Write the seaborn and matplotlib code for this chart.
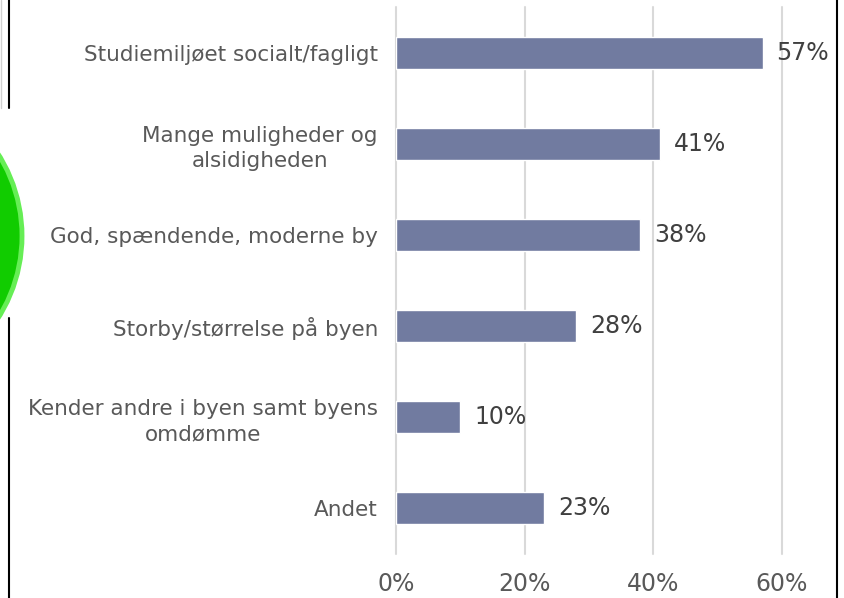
import seaborn as sns
import matplotlib.pyplot as plt
import matplotlib.patches as mpatches
from matplotlib.lines import Line2D
from matplotlib.ticker import PercentFormatter

categories = ['Studiemiljøet socialt/fagligt',
              'Mange muligheder og\nalsidigheden',
              'God, spændende, moderne by',
              'Storby/størrelse på byen',
              'Kender andre i byen samt byens\nomdømme',
              'Andet']
shares = [0.57, 0.41, 0.38, 0.28, 0.10, 0.23]
x_ticks = [0, 0.2, 0.4, 0.6]

sns.set_style('white')
plt.rcParams['font.family'] = ['DejaVu Sans']

fig = plt.figure(figsize=(8.44, 5.98), dpi=100)
ax = fig.add_axes([396 / 844, 1 - 554 / 598, (782 - 396) / 844, (554 - 7) / 598])

sns.barplot(x=shares, y=categories, orient='h', color='#717ba0', saturation=1,
            width=0.35, ax=ax, zorder=3)

ax.set_xlim(0, 0.6)
ax.set_ylim(5.5, -0.5)
ax.set_xticks(x_ticks)
ax.xaxis.set_major_formatter(PercentFormatter(1, decimals=0))
ax.grid(axis='x', color='#d9d9d9', linewidth=1.5)
for gl in ax.get_xgridlines():
    gl.set_clip_on(False)
ax.set_axisbelow(True)
for s in ax.spines.values():
    s.set_visible(False)
ax.set_xlabel('')
ax.set_ylabel('')
ax.tick_params(axis='x', length=0, labelsize=17, colors='#595959', pad=13)
ax.tick_params(axis='y', length=0, labelsize=15.5, colors='#595959', pad=13)
for lbl in ax.get_yticklabels():
    lbl.set_multialignment('center')
    lbl.set_linespacing(1.3)

# value labels
for i, v in enumerate(shares):
    ax.annotate(f'{v:.0%}', xy=(v, i), xytext=(10, 0), textcoords='offset points',
                va='center', ha='left', fontsize=17, color='#404040',
                annotation_clip=False)

# frame lines and green circle at the left edge
fig.add_artist(Line2D([1 / 844] * 2, [1, 1 - 108 / 598], color='#d0d0d0', lw=1))
fig.add_artist(Line2D([8.5 / 844] * 2, [1, 1 - 108 / 598], color='black', lw=1.5))
fig.add_artist(Line2D([8.5 / 844] * 2, [1 - 318 / 598, 0], color='black', lw=1.5))
fig.add_artist(Line2D([837 / 844] * 2, [1, 0], color='black', lw=1.5))
fig.add_artist(mpatches.Ellipse((-131 / 844, 1 - 236 / 598), width=2 * 153 / 844,
                                height=2 * 153 / 598, transform=fig.transFigure,
                                facecolor='#11cc00', edgecolor='#66ee55', linewidth=3.5))

fig.savefig('out.png', dpi=100)
